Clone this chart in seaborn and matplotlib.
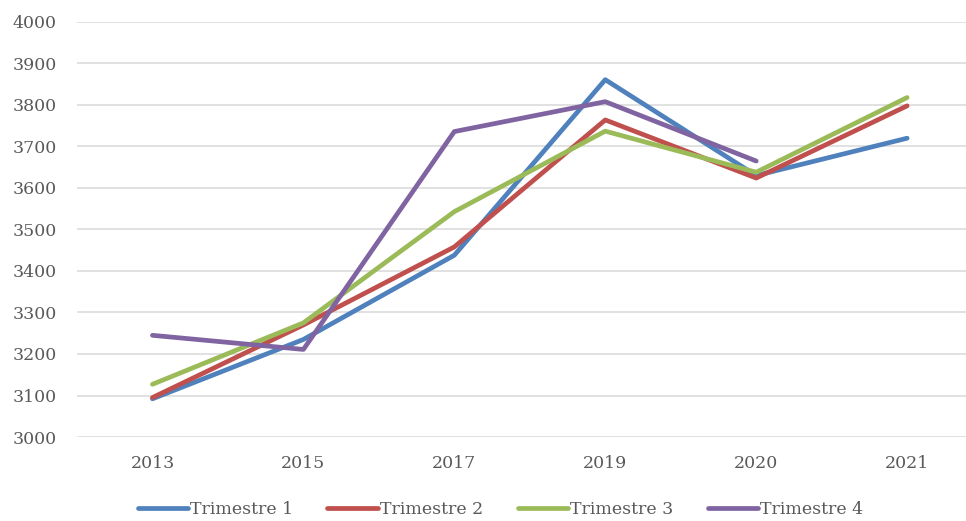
import numpy as np
import pandas as pd
import matplotlib
matplotlib.use("Agg")
import matplotlib.pyplot as plt
import seaborn as sns

# Chart data
years = ["2013", "2015", "2017", "2019", "2020", "2021"]
trimestre_1 = [3092, 3235, 3438, 3861, 3630, 3720]
trimestre_2 = [3095, 3270, 3458, 3764, 3624, 3798]
trimestre_3 = [3127, 3275, 3543, 3737, 3638, 3818]
trimestre_4 = [3245, 3211, 3736, 3808, 3665, np.nan]
series_names = ["Trimestre 1", "Trimestre 2", "Trimestre 3", "Trimestre 4"]
colors = ["#4F81BD", "#C0504D", "#9BBB59", "#8064A2"]

df = pd.DataFrame({
    "year": years * 4,
    "value": trimestre_1 + trimestre_2 + trimestre_3 + trimestre_4,
    "serie": np.repeat(series_names, len(years)),
})

sns.set_style("white")
plt.rcParams["font.family"] = ["DejaVu Serif"]

fig = plt.figure(figsize=(9.66, 5.21), dpi=100)
ax = fig.add_axes([77 / 966, 1 - 437 / 521, (966 - 77) / 966, (437 - 22) / 521])

sns.lineplot(
    data=df, x="year", y="value", hue="serie",
    palette=colors, linewidth=3.4, sort=False, ax=ax,
    solid_capstyle="round", solid_joinstyle="round",
)

ax.set_xlim(-0.5, 5.39)
ax.set_ylim(3000, 4000)
ax.set_yticks(range(3000, 4001, 100))
ax.yaxis.grid(True, color="#D9D9D9", linewidth=1.1)
ax.set_axisbelow(True)
for s in ax.spines.values():
    s.set_visible(False)
ax.tick_params(axis="both", length=0, labelsize=12.5, labelcolor="#595959")
ax.tick_params(axis="y", pad=14.5)
ax.tick_params(axis="x", pad=13)
ax.set_xlabel("")
ax.set_ylabel("")

leg = ax.legend(
    loc="center", bbox_to_anchor=(0.476, -0.175), ncol=4, frameon=False,
    fontsize=12.5, handlelength=2.9, handletextpad=0.1, columnspacing=2.0,
    labelcolor="#595959",
)
for line in leg.get_lines():
    line.set_linewidth(3.4)

plt.savefig("out.png", dpi=100)
